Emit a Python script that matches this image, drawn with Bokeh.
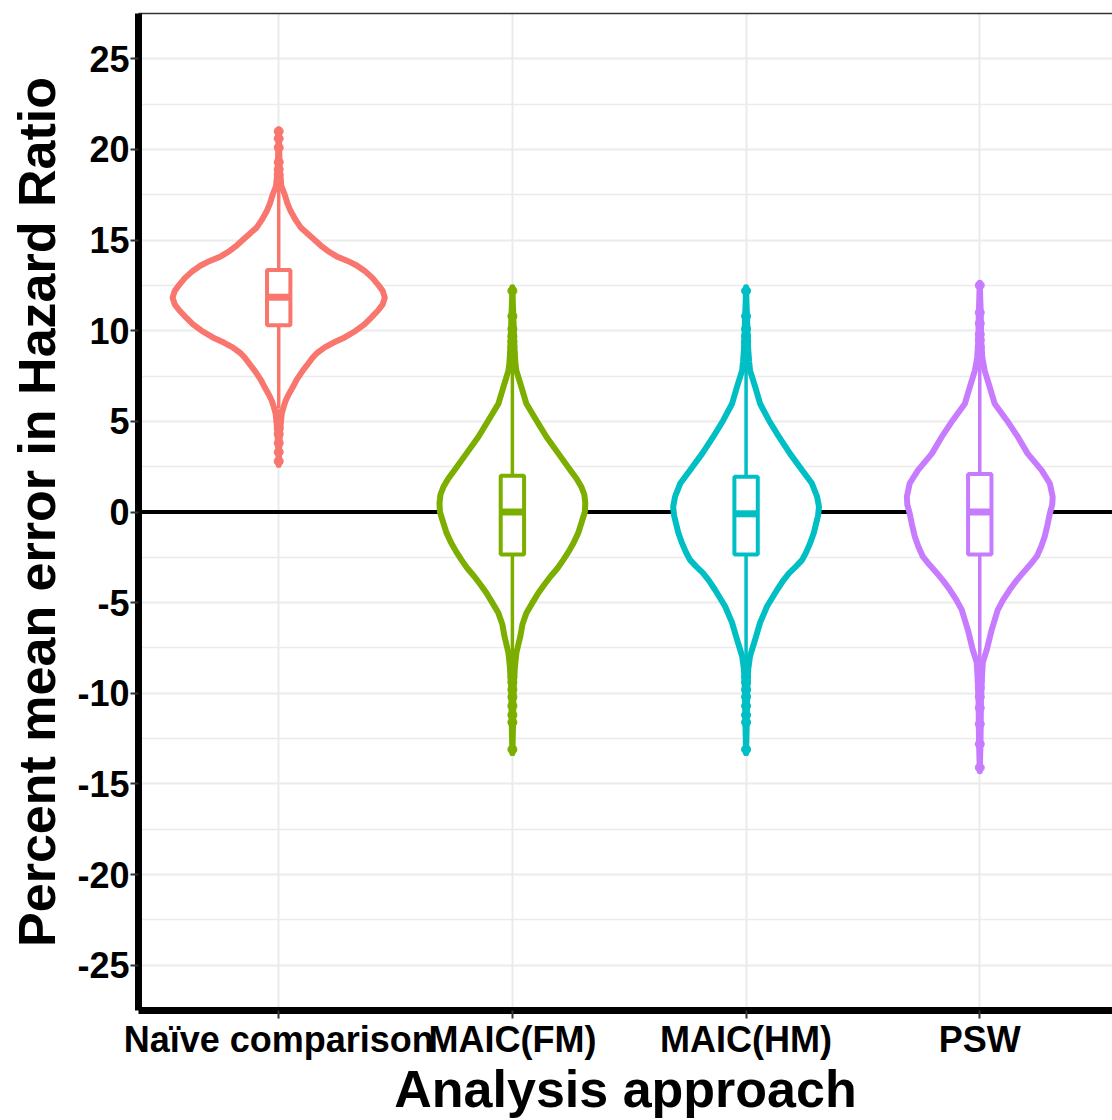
from bokeh.plotting import figure
from bokeh.models import Range1d, FixedTicker, LinearAxis, Span
from bokeh.embed import file_html
from bokeh.resources import INLINE

# ---------------- data ----------------
categories = ["Naïve comparison", "MAIC(FM)", "MAIC(HM)", "PSW"]
colors = ["#F8766D", "#7CAE00", "#00BFC4", "#C77CFF"]

q1 = [10.3, -2.35, -2.35, -2.35]
median = [11.85, 0.0, -0.1, 0.0]
q3 = [13.35, 2.0, 1.95, 2.1]
whisker_low = [5.7, -8.9, -8.9, -9.0]
whisker_high = [17.9, 8.3, 8.3, 8.5]

outliers_naive = [18.1, 18.3, 18.6, 18.9, 19.3, 20.1, 20.6, 21.0, 5.4, 5.0, 4.6, 4.3, 3.8, 3.3, 2.8]
outliers_fm = [8.5, 8.8, 9.1, 9.4, 9.7, 10.1, 10.8, 12.2, -9.1, -9.4, -9.8, -10.2, -10.7, -11.2, -11.6, -13.1]
outliers_hm = [8.5, 8.8, 9.1, 9.4, 9.7, 10.1, 10.8, 12.2, -9.1, -9.4, -9.8, -10.2, -10.7, -11.2, -11.6, -13.1]
outliers_psw = [8.7, 9.1, 9.5, 9.8, 10.4, 11.0, 12.5, -9.3, -9.7, -10.2, -10.8, -11.7, -12.8, -14.1]

# violin outlines: value and half-width (category units)
vy_naive = [21.1, 20.0, 19.0, 18.0, 17.5, 17.0, 16.6, 16.1, 15.7, 15.35, 15.0, 14.7, 14.4, 14.1, 13.85,
            13.6, 13.3, 12.9, 12.56, 12.2, 11.83, 11.45, 11.1, 10.75, 10.37, 10.0, 9.63, 9.35, 9.08,
            8.8, 8.53, 8.15, 7.8, 7.3, 6.88, 6.5, 6.15, 5.8, 5.42, 4.5, 3.5, 2.6]
vw_naive = [0.0, 0.002, 0.004, 0.011, 0.026, 0.038, 0.051, 0.073, 0.094, 0.124, 0.154, 0.18, 0.21, 0.248, 0.295,
            0.334, 0.368, 0.402, 0.424, 0.445, 0.454, 0.445, 0.424, 0.398, 0.368, 0.33, 0.282, 0.235, 0.197,
            0.167, 0.146, 0.124, 0.103, 0.077, 0.06, 0.043, 0.03, 0.021, 0.013, 0.006, 0.002, 0.0]

vy_fm = [12.4, 11.5, 10.8, 10.0, 9.0, 8.2, 7.8, 6.88, 5.97, 5.05, 4.14, 3.22, 2.3, 1.85, 1.39, 0.95, 0.48, 0.0,
         -0.62, -1.15, -1.72, -2.2, -2.64, -3.1, -3.56, -4.0, -4.47, -5.0, -5.57, -6.2, -6.85, -7.77,
         -8.5, -9.5, -10.5, -11.6, -13.3]
vw_fm = [0.0, 0.002, 0.004, 0.006, 0.009, 0.013, 0.017, 0.039, 0.06, 0.103, 0.146, 0.197, 0.248, 0.274, 0.295, 0.308, 0.312, 0.31,
         0.295, 0.282, 0.261, 0.24, 0.218, 0.193, 0.163, 0.137, 0.111, 0.086, 0.06, 0.043, 0.034, 0.017,
         0.011, 0.006, 0.004, 0.003, 0.0]

vy_hm = [12.4, 11.5, 10.8, 10.0, 9.0, 8.3, 7.8, 6.9, 5.97, 5.05, 4.14, 3.22, 2.3, 1.57, 0.84, 0.29,
         -0.2, -0.62, -1.15, -1.72, -2.2, -2.64, -3.0, -3.37, -3.8, -4.29, -5.2, -6.1, -7.03, -7.95,
         -8.7, -9.5, -10.5, -11.6, -13.3]
vw_hm = [0.0, 0.002, 0.004, 0.006, 0.009, 0.013, 0.017, 0.039, 0.06, 0.098, 0.141, 0.188, 0.24, 0.282, 0.304, 0.312,
         0.308, 0.3, 0.29, 0.274, 0.258, 0.24, 0.214, 0.184, 0.158, 0.133, 0.09, 0.06, 0.039, 0.017,
         0.009, 0.006, 0.004, 0.003, 0.0]

vy_psw = [12.65, 11.8, 11.0, 10.4, 9.5, 8.5, 7.8, 6.88, 5.97, 5.05, 4.14, 3.22, 2.3, 1.57, 0.84, 0.4,
          -0.07, -0.7, -1.35, -1.9, -2.45, -2.9, -3.37, -3.8, -4.29, -4.85, -5.4, -6.5, -7.6, -8.3,
          -9.2, -10.5, -11.7, -12.8, -14.3]
vw_psw = [0.0, 0.002, 0.004, 0.005, 0.006, 0.011, 0.021, 0.043, 0.064, 0.116, 0.163, 0.205, 0.265, 0.3, 0.312,
          0.31, 0.3, 0.29, 0.278, 0.263, 0.244, 0.216, 0.184, 0.156, 0.128, 0.1, 0.077, 0.051, 0.03, 0.013,
          0.009, 0.005, 0.004, 0.003, 0.0]

violin_y = [vy_naive, vy_fm, vy_hm, vy_psw]
violin_w = [vw_naive, vw_fm, vw_hm, vw_psw]
outliers = [outliers_naive, outliers_fm, outliers_hm, outliers_psw]

y_ticks = [-25, -20, -15, -10, -5, 0, 5, 10, 15, 20, 25]
y_tick_labels = ["-25", "-20", "-15", "-10", "-5", "0", "5", "10", "15", "20", "25"]
y_minor = [-22.5, -17.5, -12.5, -7.5, -2.5, 2.5, 7.5, 12.5, 17.5, 22.5]

# ---------------- figure ----------------
FONT = "Liberation Sans"
p = figure(width=1112, height=1120, output_backend="svg", toolbar_location=None,
           x_range=Range1d(0.4, 4.568), y_range=Range1d(-27.5, 27.5),
           min_border_left=138, min_border_right=0, min_border_top=13, min_border_bottom=110)
p.outline_line_color = None
p.background_fill_color = "white"
p.border_fill_color = "white"

xpos = list(range(1, len(categories) + 1))
p.xaxis.ticker = FixedTicker(ticks=xpos)
p.xaxis.major_label_overrides = {i: c for i, c in zip(xpos, categories)}
p.yaxis.ticker = FixedTicker(ticks=y_ticks, minor_ticks=y_minor)
p.yaxis.major_label_overrides = {t: s for t, s in zip(y_ticks, y_tick_labels)}

for ax in (p.xaxis[0], p.yaxis[0]):
    ax.axis_line_color = "black"
    ax.axis_line_width = 7
    ax.major_tick_line_color = "#333333"
    ax.major_tick_line_width = 2
    ax.major_tick_out = 8
    ax.major_tick_in = 0
    ax.minor_tick_line_color = None
    ax.major_label_text_font = FONT
    ax.major_label_text_font_style = "bold"
    ax.major_label_text_font_size = "36px"
    ax.major_label_text_color = "black"
    ax.axis_label_text_font = FONT
    ax.axis_label_text_font_style = "bold"
    ax.axis_label_text_font_size = "52px"
    ax.axis_label_text_color = "black"

p.xaxis.axis_label = "Analysis approach"
p.yaxis.axis_label = "Percent mean error in Hazard Ratio"
p.xaxis.major_label_standoff = 0
p.yaxis.major_label_standoff = 1
p.xaxis.axis_label_standoff = -3
p.yaxis.axis_label_standoff = 8

top_axis = LinearAxis(ticker=FixedTicker(ticks=[]), major_label_text_font_size="0px",
                      axis_line_color="#333333", axis_line_width=1.5,
                      major_tick_line_color=None, minor_tick_line_color=None)
p.add_layout(top_axis, "above")

p.xgrid.grid_line_color = "#EBEBEB"
p.xgrid.grid_line_width = 2
p.ygrid.grid_line_color = "#EBEBEB"
p.ygrid.grid_line_width = 2
p.ygrid.minor_grid_line_color = "#EBEBEB"
p.ygrid.minor_grid_line_width = 1.5

zero = Span(location=0, dimension="width", line_color="black", line_width=4, level="underlay")
p.add_layout(zero)

for i, (cat, col) in enumerate(zip(categories, colors)):
    cx = xpos[i]
    vy = violin_y[i]
    vw = violin_w[i]
    xs = [cx - w for w in vw] + [cx + w for w in reversed(vw)]
    ys = list(vy) + list(reversed(vy))
    p.patch(xs, ys, fill_color="white", line_color=col, line_width=6, line_join="round")
    # whiskers
    p.segment(x0=[cx, cx], y0=[q3[i], q1[i]], x1=[cx, cx], y1=[whisker_high[i], whisker_low[i]],
              line_color=col, line_width=3.5)
    # outliers
    p.scatter([cx] * len(outliers[i]), outliers[i], size=9, color=col)
    # box
    p.quad(left=[cx - 0.05], right=[cx + 0.05], bottom=[q1[i]], top=[q3[i]],
           fill_color="white", line_color=col, line_width=4)
    p.segment(x0=[cx - 0.05], y0=[median[i]], x1=[cx + 0.05], y1=[median[i]],
              line_color=col, line_width=7)

open("out.html", "w").write(file_html(p, INLINE))
